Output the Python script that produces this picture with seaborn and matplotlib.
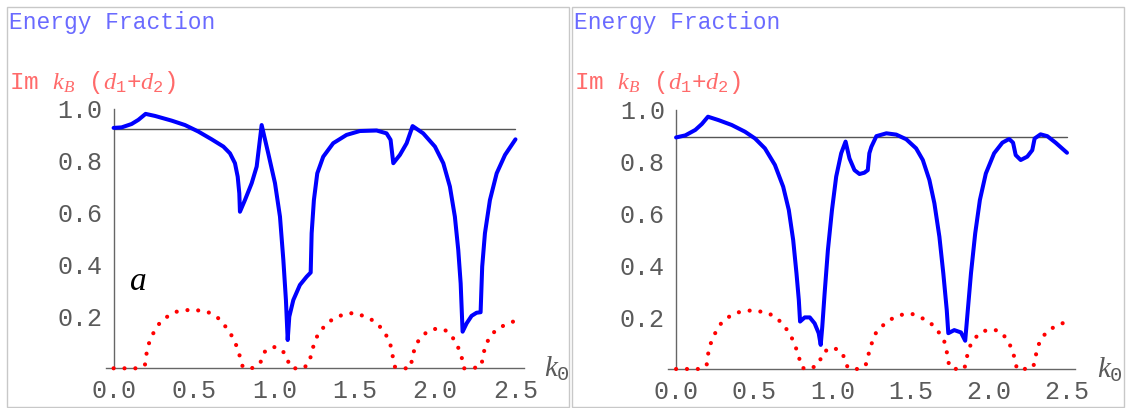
import numpy as np
import pandas as pd
import seaborn as sns
import matplotlib.pyplot as plt
from matplotlib.ticker import MultipleLocator

sns.set_style("white")
plt.rcParams['font.family'] = ['Liberation Mono', 'DejaVu Sans']
plt.rcParams['mathtext.fontset'] = 'custom'
plt.rcParams['mathtext.it'] = 'Liberation Serif:italic'
plt.rcParams['mathtext.rm'] = 'Liberation Mono'

# energy fraction, panel a
k_a = [0.0, 0.05, 0.112, 0.154, 0.199, 0.258, 0.361, 0.444, 0.527, 0.61, 0.683, 0.724, 0.755,
       0.772, 0.782, 0.786, 0.817, 0.859, 0.89, 0.921, 0.962, 1.004, 1.035, 1.056, 1.072, 1.083,
       1.093, 1.118, 1.159, 1.201, 1.226, 1.232, 1.246, 1.267, 1.304, 1.366, 1.449, 1.532, 1.636,
       1.698, 1.723, 1.74, 1.781, 1.823, 1.86, 1.926, 1.999, 2.051, 2.092, 2.123, 2.144, 2.159,
       2.171, 2.196, 2.227, 2.258, 2.283, 2.293, 2.31, 2.341, 2.383, 2.435, 2.5]
ef_a = [0.926, 0.928, 0.941, 0.957, 0.98, 0.972, 0.954, 0.937, 0.912, 0.882, 0.854, 0.828, 0.79,
        0.738, 0.674, 0.603, 0.648, 0.713, 0.777, 0.937, 0.828, 0.713, 0.584, 0.417, 0.263, 0.109,
        0.199, 0.263, 0.321, 0.353, 0.369, 0.52, 0.648, 0.751, 0.815, 0.867, 0.899, 0.914, 0.916,
        0.905, 0.88, 0.79, 0.822, 0.867, 0.933, 0.905, 0.854, 0.79, 0.7, 0.584, 0.456, 0.327,
        0.141, 0.173, 0.202, 0.214, 0.216, 0.392, 0.52, 0.648, 0.751, 0.822, 0.882]
level_a = 0.922

# energy fraction, panel b
k_b = [0.0, 0.059, 0.123, 0.165, 0.204, 0.271, 0.356, 0.441, 0.505, 0.568, 0.632, 0.685, 0.721,
       0.749, 0.77, 0.785, 0.793, 0.823, 0.855, 0.886, 0.912, 0.925, 0.935, 0.95, 0.971, 0.997,
       1.024, 1.056, 1.084, 1.109, 1.141, 1.173, 1.204, 1.226, 1.236, 1.249, 1.281, 1.345, 1.408,
       1.472, 1.535, 1.578, 1.62, 1.652, 1.684, 1.709, 1.731, 1.741, 1.779, 1.822, 1.849, 1.864,
       1.886, 1.913, 1.943, 1.981, 2.034, 2.087, 2.13, 2.155, 2.172, 2.204, 2.246, 2.278, 2.293,
       2.331, 2.374, 2.427, 2.5]
ef_b = [0.893, 0.901, 0.922, 0.945, 0.973, 0.96, 0.941, 0.915, 0.889, 0.851, 0.787, 0.703, 0.613,
        0.497, 0.369, 0.266, 0.183, 0.199, 0.199, 0.176, 0.138, 0.093, 0.163, 0.292, 0.459, 0.613,
        0.742, 0.832, 0.877, 0.812, 0.767, 0.752, 0.757, 0.767, 0.832, 0.857, 0.898, 0.909, 0.904,
        0.886, 0.851, 0.806, 0.729, 0.639, 0.51, 0.369, 0.228, 0.138, 0.15, 0.141, 0.109, 0.215,
        0.369, 0.523, 0.652, 0.754, 0.832, 0.873, 0.887, 0.873, 0.825, 0.806, 0.819, 0.844, 0.889,
        0.905, 0.898, 0.873, 0.834]
level_b = 0.893

# Im kB (d1+d2), same in both panels
k_im = [0.0, 0.05, 0.1, 0.154, 0.195, 0.211, 0.247, 0.288, 0.34, 0.392, 0.49, 0.589, 0.651,
        0.714, 0.755, 0.786, 0.803, 0.83, 0.859, 0.911, 0.941, 0.993, 1.045, 1.076, 1.097,
        1.128, 1.18, 1.215, 1.242, 1.273, 1.314, 1.356, 1.407, 1.459, 1.511, 1.563, 1.615,
        1.657, 1.688, 1.715, 1.73, 1.74, 1.75, 1.792, 1.843, 1.854, 1.864, 1.885, 1.916, 1.957,
        2.009, 2.061, 2.102, 2.133, 2.154, 2.17, 2.179, 2.227, 2.283, 2.295, 2.31, 2.341, 2.383,
        2.434, 2.486]
im_kb = [0.0, 0.0, 0.0, 0.0, 0.013, 0.083, 0.135, 0.176, 0.202, 0.218, 0.227, 0.216, 0.193,
         0.148, 0.103, 0.045, 0.006, 0.0, 0.0, 0.019, 0.064, 0.083, 0.073, 0.045, 0.006,
         0.0, 0.0, 0.019, 0.083, 0.135, 0.163, 0.186, 0.202, 0.212, 0.212, 0.199, 0.184,
         0.16, 0.135, 0.107, 0.071, 0.032, 0.006, 0.0, 0.0, 0.026, 0.058, 0.096, 0.122, 0.144,
         0.153, 0.148, 0.125, 0.096, 0.064, 0.032, 0.0, 0.0, 0.006, 0.032, 0.083, 0.122, 0.15,
         0.167, 0.18]

xticks = [0.0, 0.5, 1.0, 1.5, 2.0, 2.5]
yticks = [0.2, 0.4, 0.6, 0.8, 1.0]

grey = '#5a5a5a'
panels = [
    (k_a, ef_a, level_a, [0.0935, 0.0973, 0.3702, 0.6363], 'a', 1.049),
    (k_b, ef_b, level_b, [0.5919, 0.0956, 0.3601, 0.6355], None, 1.055),
]
im_df = pd.DataFrame({'k': k_im, 'im': im_kb})

fig = plt.figure(figsize=(11.29, 4.08), dpi=100)

for k, ef, level, rect, tag, kx in panels:
    ax = fig.add_axes(rect)
    df = pd.DataFrame({'k': k, 'ef': ef})
    ax.plot([0, 2.5], [level, level], color='#555555', linewidth=1.0, zorder=3)
    sns.lineplot(data=im_df, x='k', y='im', ax=ax, color='#ff0000', linewidth=3.0,
                 linestyle=(0, (0.01, 2.6)), dash_capstyle='round', clip_on=False,
                 zorder=4, sort=False)
    sns.lineplot(data=df, x='k', y='ef', ax=ax, color='#0000ff', linewidth=2.9,
                 solid_joinstyle='round', solid_capstyle='round',
                 clip_on=False, zorder=5, sort=False)
    ax.set_xlim(-0.05, 2.55)
    ax.set_ylim(0, 1.0)
    ax.set_xlabel('')
    ax.set_ylabel('')
    ax.set_facecolor('none')
    for s in ['top', 'right']:
        ax.spines[s].set_visible(False)
    ax.spines['left'].set_position(('data', 0))
    ax.spines['bottom'].set_position(('data', 0))
    ax.spines['left'].set_bounds(0, 1.0)
    for s in ['left', 'bottom']:
        ax.spines[s].set_color('#666666')
        ax.spines[s].set_linewidth(1.0)
    ax.set_xticks(xticks)
    ax.set_xticklabels([f'{t:.1f}' for t in xticks])
    ax.set_yticks(yticks)
    ax.set_yticklabels([f'{t:.1f}' for t in yticks])
    ax.xaxis.set_minor_locator(MultipleLocator(0.1))
    ax.yaxis.set_minor_locator(MultipleLocator(0.05))
    ax.tick_params(which='major', direction='in', length=6, width=0.8, color='#666666',
                   labelsize=18, labelcolor=grey)
    ax.tick_params(which='minor', direction='in', length=3.5, width=0.8, color='#666666')
    ax.tick_params(axis='x', which='major', pad=8)
    ax.tick_params(axis='y', which='major', pad=8)
    ax.text(kx, -0.033, '$k_0$', transform=ax.transAxes, fontsize=21, color=grey,
            ha='left', va='baseline')
    if tag:
        ax.text(0.058, 0.335, tag, transform=ax.transAxes, fontsize=24, color='black',
                family='Liberation Serif', style='italic', ha='left', va='center')

# header texts and frames for both panels
for x0, x1 in [(7, 569), (572, 1124)]:
    fig.text((x0 + 2) / 1129, 1 - 23 / 408, 'Energy Fraction', fontsize=16.5,
             color='#6a6aff', ha='left', va='center')
    fig.text((x0 + 2) / 1129, 1 - 82 / 408, r'Im $k_B$ ($d_1$+$d_2$)', fontsize=17.5,
             color='#ff6a6a', ha='left', va='center')
    fig.add_artist(plt.Rectangle((x0 / 1129, 1 / 408), (x1 - x0) / 1129, 400 / 408,
                                 transform=fig.transFigure, fill=False,
                                 edgecolor='#c8c8c8', linewidth=1.0))

fig.savefig('out.png', dpi=100)
